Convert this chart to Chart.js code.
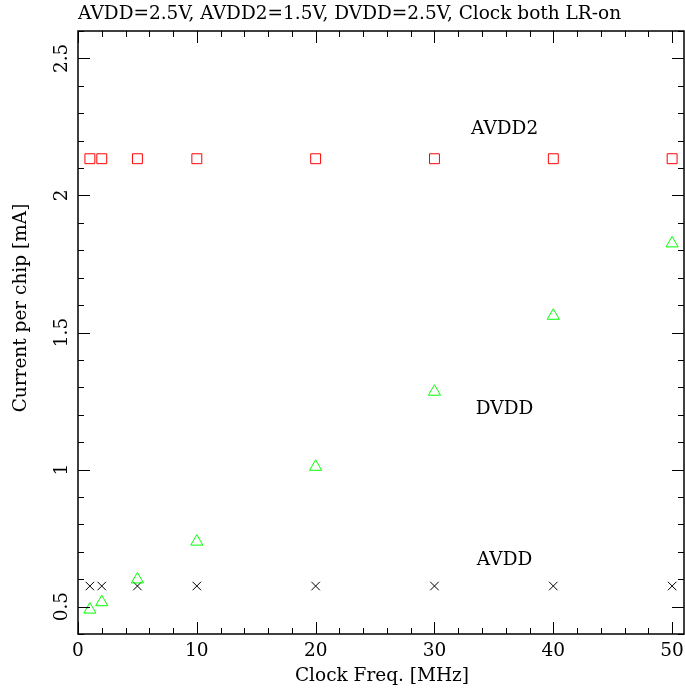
<!DOCTYPE html>
<html><head><meta charset="utf-8">
<script src="https://cdn.jsdelivr.net/npm/chart.js@4/dist/chart.umd.min.js"></script>
<style>html,body{margin:0;padding:0;background:#fff}#wrap{width:685px;height:691px}</style>
</head><body><div id="wrap"><canvas id="c" width="685" height="691"></canvas></div>
<script>
const freqs = [1, 2, 5, 10, 20, 30, 40, 50];
const avdd2 = [2.134, 2.134, 2.134, 2.134, 2.134, 2.134, 2.134, 2.134];
const dvdd  = [0.489, 0.516, 0.599, 0.737, 1.01, 1.284, 1.561, 1.825];
const avdd  = [0.575, 0.575, 0.575, 0.575, 0.575, 0.575, 0.575, 0.575];
const xTicks = [0, 10, 20, 30, 40, 50];
const yTicks = ['0.5', '1', '1.5', '2', '2.5'];
const seriesLabels = ['AVDD2', 'DVDD', 'AVDD'];
const labelX = [35.9, 35.9, 35.9];
const labelY = [2.24, 1.22, 0.67];
const titleText = 'AVDD=2.5V, AVDD2=1.5V, DVDD=2.5V, Clock both LR-on';
const xTitle = 'Clock Freq. [MHz]';
const yTitle = 'Current per chip [mA]';

const pts = ys => freqs.map((x, i) => ({x, y: ys[i]}));
const FONT = '"DejaVu Serif", "Liberation Serif", serif';

const framePlugin = {
  id: 'frame',
  afterDraw(chart) {
    const ctx = chart.ctx, a = chart.chartArea;
    const xs = chart.scales.x, ys = chart.scales.y;
    ctx.save();
    ctx.strokeStyle = '#000'; ctx.lineWidth = 1.5;
    ctx.strokeRect(a.left, a.top, a.right - a.left, a.bottom - a.top);
    ctx.lineWidth = 1;
    for (let v = 0; v <= 50.001; v += 2) {
      const px = Math.round(xs.getPixelForValue(v)) + 0.5;
      const major = Math.abs(v % 10) < 1e-6;
      const L = major ? 12 : 6;
      ctx.beginPath();
      ctx.moveTo(px, a.bottom); ctx.lineTo(px, a.bottom - L);
      ctx.moveTo(px, a.top); ctx.lineTo(px, a.top + L);
      ctx.stroke();
    }
    for (let k = 4; k <= 26; k++) {
      const v = k / 10;
      const py = Math.round(ys.getPixelForValue(v)) + 0.5;
      const major = k % 5 === 0;
      const L = major ? 12 : 6;
      ctx.beginPath();
      ctx.moveTo(a.left, py); ctx.lineTo(a.left + L, py);
      ctx.moveTo(a.right, py); ctx.lineTo(a.right - L, py);
      ctx.stroke();
    }
    ctx.fillStyle = '#000';
    ctx.font = '18.5px ' + FONT;
    ctx.textAlign = 'center'; ctx.textBaseline = 'middle';
    xTicks.forEach(v => ctx.fillText(String(v), xs.getPixelForValue(v), a.bottom + 17));
    yTicks.forEach(t => {
      const py = ys.getPixelForValue(parseFloat(t));
      ctx.save();
      ctx.translate(a.left - 16, py);
      ctx.rotate(-Math.PI / 2);
      ctx.textAlign = 'center'; ctx.textBaseline = 'middle';
      ctx.fillText(t, 0, 0);
      ctx.restore();
    });
    ctx.textAlign = 'center'; ctx.textBaseline = 'middle';
    ctx.fillText(xTitle, 382, 676);
    ctx.save();
    ctx.translate(21, 308);
    ctx.rotate(-Math.PI / 2);
    ctx.textAlign = 'center'; ctx.textBaseline = 'middle';
    ctx.fillText(yTitle, 0, 0);
    ctx.restore();
    ctx.textAlign = 'left'; ctx.textBaseline = 'middle';
    ctx.fillText(titleText, a.left, 14);
    ctx.textAlign = 'center'; ctx.textBaseline = 'middle';
    seriesLabels.forEach((s, i) => ctx.fillText(s, xs.getPixelForValue(labelX[i]), ys.getPixelForValue(labelY[i])));
    ctx.restore();
  }
};

new Chart(document.getElementById('c'), {
  type: 'scatter',
  data: {
    datasets: [
      {label: 'AVDD2', data: pts(avdd2), pointStyle: 'rect', radius: 7, borderColor: '#ff0000', backgroundColor: 'rgba(0,0,0,0)', borderWidth: 1},
      {label: 'DVDD', data: pts(dvdd), pointStyle: 'triangle', radius: 7, borderColor: '#00ff00', backgroundColor: 'rgba(0,0,0,0)', borderWidth: 1},
      {label: 'AVDD', data: pts(avdd), pointStyle: 'crossRot', radius: 6, borderColor: '#000000', backgroundColor: 'rgba(0,0,0,0)', borderWidth: 1}
    ]
  },
  options: {
    responsive: false, animation: false, devicePixelRatio: 1,
    layout: {autoPadding: false, padding: {left: 78, top: 31, right: 1, bottom: 57}},
    plugins: {legend: {display: false}, tooltip: {enabled: false}, title: {display: false}},
    scales: {
      x: {type: 'linear', min: 0, max: 51, display: false},
      y: {type: 'linear', min: 0.4, max: 2.6, display: false}
    }
  },
  plugins: [framePlugin]
});
</script></body></html>
